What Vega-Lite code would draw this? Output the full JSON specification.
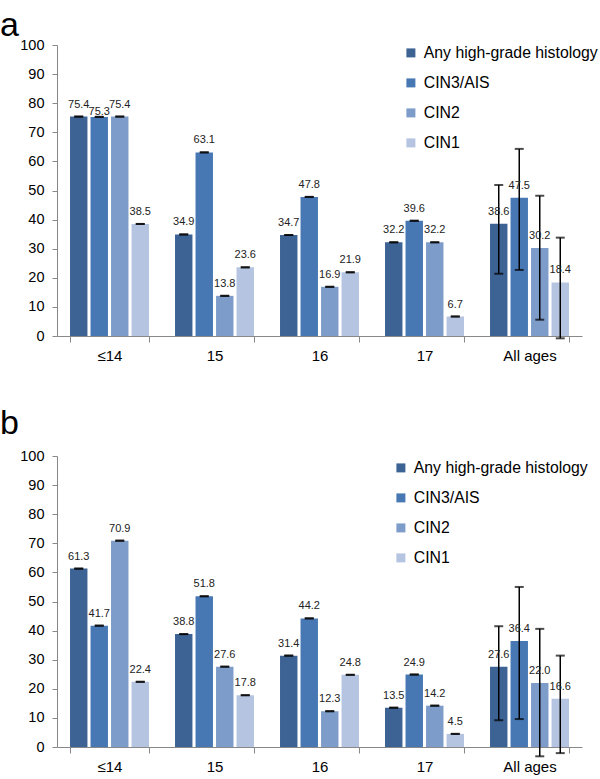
{
  "$schema": "https://vega.github.io/schema/vega-lite/v6.json",
  "padding": {"left": 0, "top": 9, "right": 2, "bottom": 5},
  "spacing": 44,
  "background": "white",
  "datasets": {
    "a": [
      {"age": "≤14", "histology": "Any high-grade histology", "value": 75.4, "lo": 75.4, "hi": 75.4},
      {"age": "≤14", "histology": "CIN3/AIS", "value": 75.3, "lo": 75.3, "hi": 75.3},
      {"age": "≤14", "histology": "CIN2", "value": 75.4, "lo": 75.4, "hi": 75.4},
      {"age": "≤14", "histology": "CIN1", "value": 38.5, "lo": 38.5, "hi": 38.5},
      {"age": "15", "histology": "Any high-grade histology", "value": 34.9, "lo": 34.9, "hi": 34.9},
      {"age": "15", "histology": "CIN3/AIS", "value": 63.1, "lo": 63.1, "hi": 63.1},
      {"age": "15", "histology": "CIN2", "value": 13.8, "lo": 13.8, "hi": 13.8},
      {"age": "15", "histology": "CIN1", "value": 23.6, "lo": 23.6, "hi": 23.6},
      {"age": "16", "histology": "Any high-grade histology", "value": 34.7, "lo": 34.7, "hi": 34.7},
      {"age": "16", "histology": "CIN3/AIS", "value": 47.8, "lo": 47.8, "hi": 47.8},
      {"age": "16", "histology": "CIN2", "value": 16.9, "lo": 16.9, "hi": 16.9},
      {"age": "16", "histology": "CIN1", "value": 21.9, "lo": 21.9, "hi": 21.9},
      {"age": "17", "histology": "Any high-grade histology", "value": 32.2, "lo": 32.2, "hi": 32.2},
      {"age": "17", "histology": "CIN3/AIS", "value": 39.6, "lo": 39.6, "hi": 39.6},
      {"age": "17", "histology": "CIN2", "value": 32.2, "lo": 32.2, "hi": 32.2},
      {"age": "17", "histology": "CIN1", "value": 6.7, "lo": 6.7, "hi": 6.7},
      {"age": "All ages", "histology": "Any high-grade histology", "value": 38.6, "lo": 21.4, "hi": 51.9},
      {"age": "All ages", "histology": "CIN3/AIS", "value": 47.5, "lo": 22.7, "hi": 64.3},
      {"age": "All ages", "histology": "CIN2", "value": 30.2, "lo": 5.6, "hi": 48.2},
      {"age": "All ages", "histology": "CIN1", "value": 18.4, "lo": -0.8, "hi": 33.8}
    ],
    "b": [
      {"age": "≤14", "histology": "Any high-grade histology", "value": 61.3, "lo": 61.3, "hi": 61.3},
      {"age": "≤14", "histology": "CIN3/AIS", "value": 41.7, "lo": 41.7, "hi": 41.7},
      {"age": "≤14", "histology": "CIN2", "value": 70.9, "lo": 70.9, "hi": 70.9},
      {"age": "≤14", "histology": "CIN1", "value": 22.4, "lo": 22.4, "hi": 22.4},
      {"age": "15", "histology": "Any high-grade histology", "value": 38.8, "lo": 38.8, "hi": 38.8},
      {"age": "15", "histology": "CIN3/AIS", "value": 51.8, "lo": 51.8, "hi": 51.8},
      {"age": "15", "histology": "CIN2", "value": 27.6, "lo": 27.6, "hi": 27.6},
      {"age": "15", "histology": "CIN1", "value": 17.8, "lo": 17.8, "hi": 17.8},
      {"age": "16", "histology": "Any high-grade histology", "value": 31.4, "lo": 31.4, "hi": 31.4},
      {"age": "16", "histology": "CIN3/AIS", "value": 44.2, "lo": 44.2, "hi": 44.2},
      {"age": "16", "histology": "CIN2", "value": 12.3, "lo": 12.3, "hi": 12.3},
      {"age": "16", "histology": "CIN1", "value": 24.8, "lo": 24.8, "hi": 24.8},
      {"age": "17", "histology": "Any high-grade histology", "value": 13.5, "lo": 13.5, "hi": 13.5},
      {"age": "17", "histology": "CIN3/AIS", "value": 24.9, "lo": 24.9, "hi": 24.9},
      {"age": "17", "histology": "CIN2", "value": 14.2, "lo": 14.2, "hi": 14.2},
      {"age": "17", "histology": "CIN1", "value": 4.5, "lo": 4.5, "hi": 4.5},
      {"age": "All ages", "histology": "Any high-grade histology", "value": 27.6, "lo": 9.2, "hi": 41.5},
      {"age": "All ages", "histology": "CIN3/AIS", "value": 36.4, "lo": 9.6, "hi": 55.0},
      {"age": "All ages", "histology": "CIN2", "value": 22.0, "lo": -3.2, "hi": 40.6},
      {"age": "All ages", "histology": "CIN1", "value": 16.6, "lo": -2.1, "hi": 31.4}
    ]
  },
  "config": {
    "font": "Liberation Sans",
    "view": {"stroke": null},
    "title": {"fontSize": 34, "font": "Liberation Sans", "fontWeight": "normal", "anchor": "start", "frame": "group", "baseline": "alphabetic", "dx": -57, "color": "black"},
    "axis": {"domainColor": "#888888", "tickColor": "#888888", "labelColor": "black", "labelFont": "Liberation Sans", "grid": false},
    "axisY": {"values": [0, 10, 20, 30, 40, 50, 60, 70, 80, 90, 100], "tickSize": 5, "labelPadding": 8, "labelFontSize": 14.5},
    "legend": {"orient": "none", "title": null, "symbolType": "square", "symbolSize": 81, "symbolStrokeWidth": 0, "labelFontSize": 15.8, "labelFont": "Liberation Sans", "labelColor": "black", "labelLimit": 400, "rowPadding": 13, "padding": 0, "labelOffset": 5}
  },
  "resolve": {"scale": {"color": "independent"}, "legend": {"color": "independent"}},
  "vconcat": [
    {
      "data": {"name": "a"},
      "title": {"text": "a", "offset": -6},
      "width": 525,
      "height": 291,
      "encoding": {
        "x": {"field": "age", "type": "nominal", "sort": ["≤14", "15", "16", "17", "All ages"], "scale": {"paddingInner": 0.248, "paddingOuter": 0.124}, "axis": {"title": null, "labelAngle": 0, "tickBand": "extent", "tickSize": 6, "labelPadding": 6, "labelFontSize": 15}},
        "xOffset": {"field": "histology", "type": "nominal", "sort": ["Any high-grade histology", "CIN3/AIS", "CIN2", "CIN1"], "scale": {"paddingInner": 0.15, "paddingOuter": 0}}
      },
      "layer": [
        {
          "mark": {"type": "bar"},
          "encoding": {
            "y": {"field": "value", "type": "quantitative", "title": null, "scale": {"domain": [0, 100]}},
            "color": {"field": "histology", "type": "nominal", "sort": ["Any high-grade histology", "CIN3/AIS", "CIN2", "CIN1"], "scale": {"range": ["#3d6394", "#4878b3", "#7e9cc9", "#b5c4e0"]}, "legend": {"legendX": 346, "legendY": 0}}
          }
        },
        {
          "mark": {"type": "rule", "color": "black", "strokeWidth": 1.5},
          "encoding": {"y": {"field": "lo", "type": "quantitative", "title": null}, "y2": {"field": "hi"}}
        },
        {
          "mark": {"type": "tick", "color": "black", "thickness": 2, "size": 9},
          "encoding": {"y": {"field": "hi", "type": "quantitative", "title": null}}
        },
        {
          "mark": {"type": "tick", "color": "black", "thickness": 2, "size": 9},
          "encoding": {"y": {"field": "lo", "type": "quantitative", "title": null}}
        },
        {
          "transform": [{"filter": "datum.value != 75.3"}],
          "mark": {"type": "text", "fontSize": 11, "dy": -9, "baseline": "alphabetic", "color": "#222222"},
          "encoding": {"y": {"field": "value", "type": "quantitative", "title": null}, "text": {"field": "value", "type": "quantitative", "format": ".1f"}}
        },
        {
          "transform": [{"filter": "datum.value == 75.3"}],
          "mark": {"type": "text", "fontSize": 11, "dy": -2, "baseline": "alphabetic", "color": "#222222"},
          "encoding": {"y": {"field": "value", "type": "quantitative", "title": null}, "text": {"field": "value", "type": "quantitative", "format": ".1f"}}
        }
      ]
    },
    {
      "data": {"name": "b"},
      "title": {"text": "b", "offset": 7},
      "width": 525,
      "height": 291,
      "encoding": {
        "x": {"field": "age", "type": "nominal", "sort": ["≤14", "15", "16", "17", "All ages"], "scale": {"paddingInner": 0.248, "paddingOuter": 0.124}, "axis": {"title": null, "labelAngle": 0, "tickBand": "extent", "tickSize": 6, "labelPadding": 6, "labelFontSize": 15}},
        "xOffset": {"field": "histology", "type": "nominal", "sort": ["Any high-grade histology", "CIN3/AIS", "CIN2", "CIN1"], "scale": {"paddingInner": 0.15, "paddingOuter": 0}}
      },
      "layer": [
        {
          "mark": {"type": "bar"},
          "encoding": {
            "y": {"field": "value", "type": "quantitative", "title": null, "scale": {"domain": [0, 100]}},
            "color": {"field": "histology", "type": "nominal", "sort": ["Any high-grade histology", "CIN3/AIS", "CIN2", "CIN1"], "scale": {"range": ["#3d6394", "#4878b3", "#7e9cc9", "#b5c4e0"]}, "legend": {"legendX": 336, "legendY": 4}}
          }
        },
        {
          "mark": {"type": "rule", "color": "black", "strokeWidth": 1.5},
          "encoding": {"y": {"field": "lo", "type": "quantitative", "title": null}, "y2": {"field": "hi"}}
        },
        {
          "mark": {"type": "tick", "color": "black", "thickness": 2, "size": 9},
          "encoding": {"y": {"field": "hi", "type": "quantitative", "title": null}}
        },
        {
          "mark": {"type": "tick", "color": "black", "thickness": 2, "size": 9},
          "encoding": {"y": {"field": "lo", "type": "quantitative", "title": null}}
        },
        {
          "mark": {"type": "text", "fontSize": 11, "dy": -9, "baseline": "alphabetic", "color": "#222222"},
          "encoding": {"y": {"field": "value", "type": "quantitative", "title": null}, "text": {"field": "value", "type": "quantitative", "format": ".1f"}}
        }
      ]
    }
  ]
}
